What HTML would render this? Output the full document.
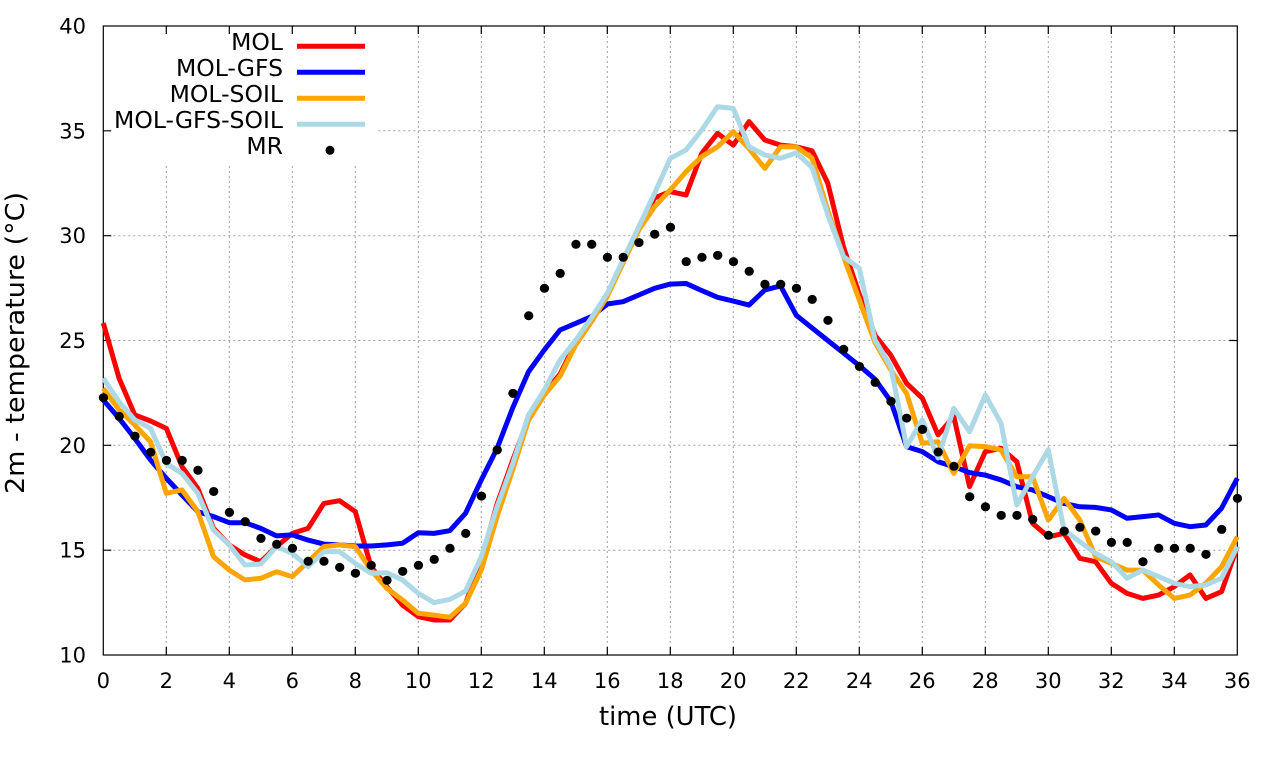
<!DOCTYPE html>
<html><head><meta charset="utf-8"><style>
html,body{margin:0;padding:0;background:#fff;}
svg{display:block;}
text{font-family:"DejaVu Sans","Liberation Sans",sans-serif;fill:#000;}
</style></head><body>
<svg width="1280" height="760" viewBox="0 0 1280 760" xmlns="http://www.w3.org/2000/svg">
<rect x="0" y="0" width="1280" height="760" fill="#fff"/>
<!-- grid -->
<g stroke="#a0a0a0" stroke-width="1" stroke-dasharray="2,3" fill="none">
<path d="M166.3,26V655 M229.3,26V655 M292.3,26V655 M355.3,26V655 M418.3,26V655 M481.3,26V655 M544.3,26V655 M607.3,26V655 M670.3,26V655 M733.3,26V655 M796.3,26V655 M859.3,26V655 M922.3,26V655 M985.3,26V655 M1048.3,26V655 M1111.3,26V655 M1174.3,26V655"/>
<path d="M103.3,550.2H1237.3 M103.3,445.3H1237.3 M103.3,340.5H1237.3 M103.3,235.7H1237.3 M103.3,130.8H1237.3"/>
</g>
<!-- legend box (opaque) -->
<rect x="104" y="27" width="274" height="137" fill="#fff"/>
<!-- border and ticks -->
<g stroke="#000" stroke-width="1.2" fill="none">
<rect x="103.3" y="26" width="1134" height="629"/>
<path d="M166.3,655v-8 M229.3,655v-8 M292.3,655v-8 M355.3,655v-8 M418.3,655v-8 M481.3,655v-8 M544.3,655v-8 M607.3,655v-8 M670.3,655v-8 M733.3,655v-8 M796.3,655v-8 M859.3,655v-8 M922.3,655v-8 M985.3,655v-8 M1048.3,655v-8 M1111.3,655v-8 M1174.3,655v-8"/>
<path d="M166.3,26v8 M229.3,26v8 M292.3,26v8 M355.3,26v8 M418.3,26v8 M481.3,26v8 M544.3,26v8 M607.3,26v8 M670.3,26v8 M733.3,26v8 M796.3,26v8 M859.3,26v8 M922.3,26v8 M985.3,26v8 M1048.3,26v8 M1111.3,26v8 M1174.3,26v8"/>
<path d="M103.3,550.2h8 M103.3,445.3h8 M103.3,340.5h8 M103.3,235.7h8 M103.3,130.8h8"/>
<path d="M1237.3,550.2h-8 M1237.3,445.3h-8 M1237.3,340.5h-8 M1237.3,235.7h-8 M1237.3,130.8h-8"/>
</g>
<!-- y tick labels -->
<g font-size="21" text-anchor="end">
<text x="86" y="662.5">10</text>
<text x="86" y="557.7">15</text>
<text x="86" y="452.8">20</text>
<text x="86" y="348">25</text>
<text x="86" y="243.2">30</text>
<text x="86" y="138.3">35</text>
<text x="86" y="33.5">40</text>
</g>
<!-- x tick labels -->
<g font-size="21" text-anchor="middle">
<text x="103.3" y="688">0</text>
<text x="166.3" y="688">2</text>
<text x="229.3" y="688">4</text>
<text x="292.3" y="688">6</text>
<text x="355.3" y="688">8</text>
<text x="418.3" y="688">10</text>
<text x="481.3" y="688">12</text>
<text x="544.3" y="688">14</text>
<text x="607.3" y="688">16</text>
<text x="670.3" y="688">18</text>
<text x="733.3" y="688">20</text>
<text x="796.3" y="688">22</text>
<text x="859.3" y="688">24</text>
<text x="922.3" y="688">26</text>
<text x="985.3" y="688">28</text>
<text x="1048.3" y="688">30</text>
<text x="1111.3" y="688">32</text>
<text x="1174.3" y="688">34</text>
<text x="1237.3" y="688">36</text>
</g>
<!-- axis labels -->
<text x="668" y="725" font-size="26" text-anchor="middle" textLength="138" lengthAdjust="spacingAndGlyphs">time (UTC)</text>
<text transform="translate(24,343) rotate(-90)" font-size="26" text-anchor="middle" textLength="302" lengthAdjust="spacingAndGlyphs">2m - temperature (°C)</text>

<!-- data -->
<g transform="translate(103.3,864.67) scale(31.5,-20.967)" fill="none" stroke-linejoin="round" stroke-linecap="butt">
<polyline vector-effect="non-scaling-stroke" stroke="#ff0000" stroke-width="5" points="0,25.83 0.5,23.2 1,21.45 1.5,21.16 2,20.81 2.5,18.98 3,17.95 3.5,16.04 4,15.25 4.5,14.77 5,14.45 5.5,15.17 6,15.8 6.5,16.04 7,17.23 7.5,17.36 8,16.84 8.5,14.21 9,13.26 9.5,12.38 10,11.83 10.5,11.67 11,11.67 11.5,12.46 12,14.5 12.5,17.2 13,19.3 13.5,21.3 14,22.5 14.5,23.4 15,24.9 15.5,26.0 16,27.2 16.5,28.8 17,30.4 17.5,31.8 18,32.1 18.5,31.94 19,33.93 19.5,34.88 20,34.32 20.5,35.44 21,34.56 21.5,34.32 22,34.24 22.5,34.05 23,32.5 23.5,29.45 24,27.2 24.5,25.25 25,24.3 25.5,22.96 26,22.25 26.5,20.5 27,21.37 27.5,18.03 28,19.7 28.5,19.86 29,19.22 29.5,16.28 30,15.64 30.5,15.8 31,14.61 31.5,14.45 32,13.42 32.5,12.94 33,12.7 33.5,12.86 34,13.26 34.5,13.82 35,12.7 35.5,13.02 36,15.17"/>
<polyline vector-effect="non-scaling-stroke" stroke="#0000ff" stroke-width="5" points="0,22.16 0.5,21.29 1,20.33 1.5,19.3 2,18.43 2.5,17.63 3,16.84 3.5,16.6 4,16.31 4.5,16.31 5,16.04 5.5,15.68 6,15.73 6.5,15.48 7,15.29 7.5,15.25 8,15.2 8.5,15.2 9,15.25 9.5,15.33 10,15.83 10.5,15.8 11,15.93 11.5,16.76 12,18.35 12.5,19.85 13,21.8 13.5,23.51 14,24.55 14.5,25.5 15,25.82 15.5,26.14 16,26.74 16.5,26.85 17,27.17 17.5,27.49 18,27.69 18.5,27.72 19,27.38 19.5,27.06 20,26.88 20.5,26.69 21,27.41 21.5,27.6 22,26.2 22.5,25.6 23,25.0 23.5,24.4 24,23.8 24.5,23.15 25,22.1 25.5,19.94 26,19.7 26.5,19.22 27,18.98 27.5,18.7 28,18.58 28.5,18.35 29,18.03 29.5,17.87 30,17.55 30.5,17.23 31,17.07 31.5,17.04 32,16.92 32.5,16.52 33,16.6 33.5,16.68 34,16.28 34.5,16.12 35,16.2 35.5,17.0 36,18.43"/>
<polyline vector-effect="non-scaling-stroke" stroke="#ffa500" stroke-width="5" points="0,22.72 0.5,21.69 1,20.97 1.5,20.17 2,17.71 2.5,17.87 3,16.84 3.5,14.69 4,14.05 4.5,13.58 5,13.66 5.5,13.97 6,13.74 6.5,14.45 7,15.17 7.5,15.25 8,15.17 8.5,14.05 9,13.18 9.5,12.62 10,11.99 10.5,11.9 11,11.8 11.5,12.46 12,14.05 12.5,16.6 13,18.85 13.5,21.2 14,22.4 14.5,23.3 15,24.8 15.5,25.9 16,27.1 16.5,28.7 17,30.27 17.5,31.38 18,32.18 18.5,33.05 19,33.77 19.5,34.24 20,34.96 20.5,34.15 21,33.21 21.5,34.24 22,34.24 22.5,33.7 23,31.2 23.5,29.0 24,26.93 24.5,24.9 25,23.6 25.5,22.48 26,20.1 26.5,20.17 27,18.66 27.5,19.98 28,19.94 28.5,19.78 29,18.5 29.5,18.5 30,16.44 30.5,17.47 31,16.44 31.5,14.69 32,14.37 32.5,14.05 33,14.05 33.5,13.34 34,12.7 34.5,12.86 35,13.42 35.5,14.21 36,15.64"/>
<polyline vector-effect="non-scaling-stroke" stroke="#add8e6" stroke-width="5" points="0,23.2 0.5,22.08 1,21.21 1.5,20.81 2,19.14 2.5,18.66 3,17.71 3.5,15.96 4,15.25 4.5,14.29 5,14.34 5.5,15.17 6,14.85 6.5,14.21 7,14.93 7.5,14.93 8,14.37 8.5,13.9 9,13.92 9.5,13.58 10,12.94 10.5,12.5 11,12.65 11.5,13.05 12,14.69 12.5,17.07 13,19.14 13.5,21.45 14,22.64 14.5,24.07 15,25.02 15.5,26.09 16,27.25 16.5,28.84 17,30.43 17.5,32.02 18,33.69 18.5,34.09 19,35.04 19.5,36.15 20,36.07 20.5,34.24 21,33.85 21.5,33.69 22,33.95 22.5,33.25 23,31.0 23.5,29.0 24,28.44 24.5,25.02 25,23.75 25.5,19.94 26,21.21 26.5,19.4 27,21.76 27.5,20.65 28,22.4 28.5,21.05 29,17.15 29.5,18.5 30,19.78 30.5,15.96 31,15.4 31.5,14.85 32,14.45 32.5,13.66 33,14.05 33.5,13.74 34,13.42 34.5,13.26 35,13.34 35.5,13.66 36,15.17"/>
<path vector-effect="non-scaling-stroke" stroke="#000" stroke-width="9" stroke-linecap="round" d="M0,22.27h0.01 M0.5,21.38h0.01 M1,20.44h0.01 M1.5,19.67h0.01 M2,19.28h0.01 M2.5,19.28h0.01 M3,18.81h0.01 M3.5,17.8h0.01 M4,16.8h0.01 M4.5,16.36h0.01 M5,15.56h0.01 M5.5,15.28h0.01 M6,15.09h0.01 M6.5,14.47h0.01 M7,14.47h0.01 M7.5,14.18h0.01 M8,13.9h0.01 M8.5,14.28h0.01 M9,13.56h0.01 M9.5,13.99h0.01 M10,14.28h0.01 M10.5,14.56h0.01 M11,15.09h0.01 M11.5,15.8h0.01 M12,17.58h0.01 M12.5,19.78h0.01 M13,22.48h0.01 M13.5,26.18h0.01 M14,27.49h0.01 M14.5,28.2h0.01 M15,29.59h0.01 M15.5,29.59h0.01 M16,28.97h0.01 M16.5,28.97h0.01 M17,29.67h0.01 M17.5,30.07h0.01 M18,30.4h0.01 M18.5,28.76h0.01 M19,28.97h0.01 M19.5,29.06h0.01 M20,28.76h0.01 M20.5,28.3h0.01 M21,27.68h0.01 M21.5,27.68h0.01 M22,27.49h0.01 M22.5,26.96h0.01 M23,25.96h0.01 M23.5,24.58h0.01 M24,23.76h0.01 M24.5,23.0h0.01 M25,22.1h0.01 M25.5,21.3h0.01 M26,20.76h0.01 M26.5,19.68h0.01 M27,19.0h0.01 M27.5,17.55h0.01 M28,17.07h0.01 M28.5,16.66h0.01 M29,16.66h0.01 M29.5,16.47h0.01 M30,15.71h0.01 M30.5,15.91h0.01 M31,16.09h0.01 M31.5,15.91h0.01 M32,15.37h0.01 M32.5,15.37h0.01 M33,14.45h0.01 M33.5,15.09h0.01 M34,15.09h0.01 M34.5,15.09h0.01 M35,14.8h0.01 M35.5,15.99h0.01 M36,17.47h0.01"/>
</g>

<!-- legend -->
<g font-size="23.5" text-anchor="end">
<text x="283" y="50">MOL</text>
<text x="283" y="76">MOL-GFS</text>
<text x="283" y="102">MOL-SOIL</text>
<text x="283" y="128">MOL-GFS-SOIL</text>
<text x="283" y="154">MR</text>
</g>
<g stroke-width="5" fill="none">
<path d="M297,46.3H365" stroke="#ff0000"/>
<path d="M297,72.3H365" stroke="#0000ff"/>
<path d="M297,98.3H365" stroke="#ffa500"/>
<path d="M297,124.3H365" stroke="#add8e6"/>
</g>
<circle cx="330" cy="150.3" r="4.5" fill="#000"/>
</svg>
</body></html>
